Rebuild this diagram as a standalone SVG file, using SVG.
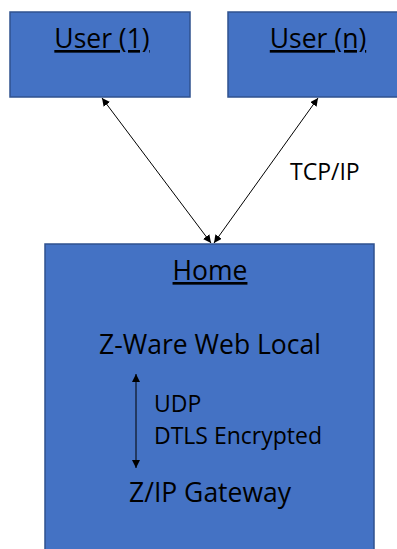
<svg xmlns="http://www.w3.org/2000/svg" width="397" height="549" viewBox="0 0 397 549">
<style>
.box{fill:#4472C4;stroke:#2F528F;stroke-width:1.5}
text{font-family:"Open Sans","Noto Sans",sans-serif;fill:#000}
.title{font-size:26.5px;text-decoration:underline;text-anchor:middle}
.big{font-size:26.5px;text-anchor:middle}
.small{font-size:23px}
.conn{stroke:#000;stroke-width:1;fill:none}
</style>
<defs>
<marker id="ah" viewBox="0 0 10 10" refX="10" refY="5" markerWidth="8" markerHeight="8" orient="auto-start-reverse" markerUnits="userSpaceOnUse">
<path d="M0,0 L10,5 L0,10 z" fill="#000"/>
</marker>
</defs>
<rect width="397" height="549" fill="#fff"/>
<g id="user1">
<rect class="box" x="10" y="12" width="180" height="85"/>
<text class="title" x="102" y="48">User (1)</text>
</g>
<g id="usern">
<rect class="box" x="228" y="12" width="180" height="85"/>
<text class="title" x="318" y="48">User (n)</text>
</g>
<g id="home">
<rect class="box" x="45" y="244" width="329" height="320"/>
<text class="title" x="210" y="280">Home</text>
<text class="big" x="210" y="354">Z-Ware Web Local</text>
<text class="small" x="154" y="412">UDP</text>
<text class="small" x="154" y="444">DTLS Encrypted</text>
<text class="big" x="210" y="502">Z/IP Gateway</text>
</g>
<g id="connectors">
<line class="conn" x1="102" y1="98" x2="211" y2="243" marker-start="url(#ah)" marker-end="url(#ah)"/>
<line class="conn" x1="318" y1="98" x2="214" y2="243" marker-start="url(#ah)" marker-end="url(#ah)"/>
<line class="conn" x1="136" y1="374" x2="136" y2="468" stroke-width="1.5" marker-start="url(#ah)" marker-end="url(#ah)"/>
<text class="small" x="290" y="180">TCP/IP</text>
</g>
</svg>
